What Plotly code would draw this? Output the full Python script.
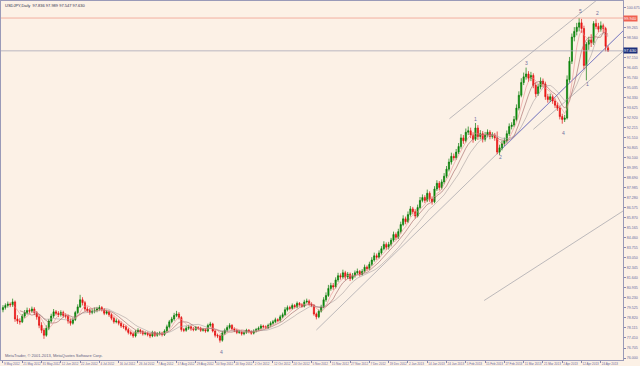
import plotly.graph_objects as go
import pandas as pd

open_ = [79.40,79.55,79.70,79.80,79.75,79.95,78.75,78.60,78.55,78.95,79.20,79.35,79.30,79.45,79.20,78.90,78.30,77.95,77.60,78.10,
78.60,78.95,79.25,79.15,79.05,79.20,79.00,78.95,78.60,78.45,78.70,79.20,79.60,80.10,79.90,79.45,79.35,79.20,79.30,79.35,
79.45,79.55,79.40,79.15,79.25,79.05,78.80,78.55,78.60,78.45,78.25,78.20,78.00,77.80,77.70,77.55,77.85,77.95,77.85,77.70,
77.75,77.65,77.55,77.80,77.60,77.70,77.75,77.65,77.90,78.20,78.55,78.75,79.00,79.10,78.85,78.00,77.95,78.10,78.20,78.05,
78.00,78.15,78.10,77.95,78.00,77.90,78.30,78.40,77.90,77.60,77.55,77.25,77.75,77.95,78.15,78.30,78.05,77.95,77.80,77.85,
77.70,77.80,77.95,77.85,77.75,77.90,78.00,78.10,78.25,78.20,78.15,78.30,78.45,78.55,78.70,78.65,78.90,79.05,79.40,79.55,
79.50,79.70,79.60,79.85,79.75,79.65,79.95,80.00,79.80,79.70,79.10,78.90,79.30,79.60,80.10,80.40,80.90,81.10,81.00,81.50,
81.80,81.70,82.00,81.70,81.90,81.60,81.80,82.00,82.10,81.90,82.10,82.40,82.30,82.60,82.90,83.20,83.10,83.40,83.70,84.00,
83.80,84.00,84.30,84.70,84.50,84.90,85.40,85.80,85.60,86.10,86.50,86.30,86.00,86.60,87.10,87.30,87.10,87.60,87.20,87.00,
87.90,88.30,88.00,88.40,88.80,89.30,89.80,90.20,90.10,90.50,90.90,91.50,91.30,91.90,92.00,91.70,91.40,92.20,91.60,91.80,
91.40,91.70,91.90,91.60,91.70,91.50,90.50,90.80,91.10,91.30,91.80,92.30,92.40,92.80,93.60,94.50,95.40,95.80,96.00,95.70,
95.90,95.20,94.60,95.10,95.50,95.30,94.40,94.20,94.40,94.10,93.80,93.60,93.00,92.80,92.90,95.60,96.90,98.60,99.00,99.30,
99.60,99.20,96.60,98.10,98.40,98.20,99.55,99.35,99.15,99.40,99.20,97.84]

high = [79.72,79.85,79.98,79.92,80.18,80.05,79.02,78.80,79.10,79.38,79.55,79.50,79.62,79.58,79.31,79.05,78.52,78.10,78.30,78.74,
79.12,79.45,79.38,79.30,79.36,79.33,79.15,79.06,78.78,78.85,79.32,79.78,80.45,80.28,80.02,79.62,79.50,79.46,79.55,79.60,
79.72,79.66,79.52,79.40,79.36,79.18,78.92,78.78,78.71,78.58,78.40,78.31,78.12,77.94,77.82,77.98,78.10,78.05,77.96,77.88,
77.86,77.78,77.92,77.90,77.83,77.88,77.85,78.02,78.35,78.68,78.90,79.18,79.32,79.24,78.95,78.12,78.25,78.33,78.30,78.18,
78.26,78.24,78.20,78.12,78.08,78.42,78.55,78.48,78.00,77.72,77.66,77.90,78.08,78.30,78.45,78.38,78.16,78.05,77.98,77.94,
77.91,78.06,78.04,77.95,78.02,78.12,78.22,78.38,78.34,78.30,78.42,78.58,78.68,78.84,78.80,79.04,79.20,79.58,79.70,79.68,
79.84,79.80,79.98,79.94,79.86,80.10,80.18,80.12,79.92,79.80,79.20,79.42,79.75,80.28,80.62,81.15,81.30,81.28,81.68,82.00,
81.96,82.22,82.14,82.06,82.02,81.98,82.16,82.30,82.20,82.26,82.58,82.52,82.78,83.10,83.42,83.36,83.58,83.88,84.22,84.14,
84.18,84.46,84.90,84.84,85.10,85.60,86.05,85.96,86.32,86.70,86.64,86.48,86.80,87.34,87.52,87.46,87.86,87.74,87.38,88.10,
88.52,88.46,88.58,89.02,89.52,90.04,90.46,90.40,90.72,91.14,91.76,91.70,92.16,92.30,92.22,91.90,92.55,92.40,92.05,91.98,
91.92,92.10,92.04,91.90,91.85,91.95,91.02,91.30,91.52,92.02,92.52,92.60,93.04,93.86,94.78,95.70,96.10,96.45,96.20,96.15,
96.05,95.40,95.30,95.76,95.68,95.46,94.60,94.62,94.55,94.28,94.00,93.72,93.20,93.12,95.90,97.20,98.85,99.30,99.60,99.95,
99.88,99.40,98.25,98.62,98.80,99.72,99.85,99.60,99.70,99.55,99.32,97.99]

low = [79.22,79.41,79.55,79.58,79.60,78.55,78.40,78.35,78.46,78.80,79.05,79.12,79.18,79.02,78.70,78.10,77.75,77.35,77.50,77.96,
78.48,78.82,79.00,78.88,78.92,78.85,78.78,78.42,78.28,78.35,78.60,79.08,79.52,79.70,79.30,79.20,79.04,79.08,79.15,79.22,
79.30,79.28,79.02,79.05,78.90,78.66,78.42,78.44,78.30,78.12,78.06,77.88,77.66,77.58,77.42,77.45,77.72,77.70,77.58,77.60,
77.52,77.40,77.46,77.48,77.50,77.58,77.52,77.55,77.80,78.08,78.44,78.62,78.88,78.72,77.86,77.82,77.85,77.98,77.92,77.88,
77.90,77.98,77.84,77.86,77.78,77.82,78.18,77.80,77.45,77.40,77.08,77.15,77.62,77.84,78.02,77.92,77.82,77.68,77.70,77.58,
77.60,77.70,77.74,77.64,77.66,77.80,77.90,78.00,78.08,78.04,78.06,78.20,78.34,78.46,78.52,78.56,78.80,78.96,79.28,79.36,
79.40,79.48,79.50,79.62,79.54,79.56,79.84,79.68,79.58,78.98,78.72,78.80,79.20,79.50,79.96,80.30,80.74,80.80,80.90,81.36,
81.52,81.58,81.50,81.56,81.42,81.48,81.66,81.86,81.74,81.80,82.00,82.14,82.20,82.48,82.78,82.92,83.00,83.28,83.58,83.62,
83.64,83.86,84.18,84.32,84.38,84.76,85.28,85.42,85.50,85.96,86.12,85.82,85.90,86.48,86.96,86.92,86.98,87.00,86.80,86.90,
87.76,87.80,87.86,88.24,88.66,89.14,89.62,89.90,89.96,90.36,90.74,91.08,91.18,91.70,91.48,91.16,91.28,91.36,91.40,91.18,
91.24,91.54,91.40,91.44,91.30,90.35,90.30,90.62,90.94,91.16,91.64,92.10,92.26,92.66,93.44,94.36,95.22,95.60,95.44,95.50,
95.00,94.36,94.46,94.92,95.06,94.18,93.98,94.04,93.90,93.60,93.40,92.80,92.50,92.62,92.80,95.40,96.70,98.30,98.72,99.00,
98.90,96.35,95.55,97.70,97.90,98.05,99.15,98.95,98.98,98.90,97.60,97.55]

close = [79.55,79.70,79.80,79.75,79.95,78.75,78.60,78.55,78.95,79.20,79.35,79.30,79.45,79.20,78.90,78.30,77.95,77.60,78.10,78.60,
78.95,79.25,79.15,79.05,79.20,79.00,78.95,78.60,78.45,78.70,79.20,79.60,80.10,79.90,79.45,79.35,79.20,79.30,79.35,79.45,
79.55,79.40,79.15,79.25,79.05,78.80,78.55,78.60,78.45,78.25,78.20,78.00,77.80,77.70,77.55,77.85,77.95,77.85,77.70,77.75,
77.65,77.55,77.80,77.60,77.70,77.75,77.65,77.90,78.20,78.55,78.75,79.00,79.10,78.85,78.00,77.95,78.10,78.20,78.05,78.00,
78.15,78.10,77.95,78.00,77.90,78.30,78.40,77.90,77.60,77.55,77.25,77.75,77.95,78.15,78.30,78.05,77.95,77.80,77.85,77.70,
77.80,77.95,77.85,77.75,77.90,78.00,78.10,78.25,78.20,78.15,78.30,78.45,78.55,78.70,78.65,78.90,79.05,79.40,79.55,79.50,
79.70,79.60,79.85,79.75,79.65,79.95,80.00,79.80,79.70,79.10,78.90,79.30,79.60,80.10,80.40,80.90,81.10,81.00,81.50,81.80,
81.70,82.00,81.70,81.90,81.60,81.80,82.00,82.10,81.90,82.10,82.40,82.30,82.60,82.90,83.20,83.10,83.40,83.70,84.00,83.80,
84.00,84.30,84.70,84.50,84.90,85.40,85.80,85.60,86.10,86.50,86.30,86.00,86.60,87.10,87.30,87.10,87.60,87.20,87.00,87.90,
88.30,88.00,88.40,88.80,89.30,89.80,90.20,90.10,90.50,90.90,91.50,91.30,91.90,92.00,91.70,91.40,92.20,91.60,91.80,91.40,
91.70,91.90,91.60,91.70,91.50,90.50,90.80,91.10,91.30,91.80,92.30,92.40,92.80,93.60,94.50,95.40,95.80,96.00,95.70,95.90,
95.20,94.60,95.10,95.50,95.30,94.40,94.20,94.40,94.10,93.80,93.60,93.00,92.80,92.90,95.60,96.90,98.60,99.00,99.30,99.60,
99.20,96.60,98.10,98.40,98.20,99.55,99.35,99.15,99.40,99.20,97.95,97.63]

tick_labels = ["9 May 2012","21 May 2012","31 May 2012","12 Jun 2012","22 Jun 2012","4 Jul 2012","16 Jul 2012",
"26 Jul 2012","7 Aug 2012","17 Aug 2012","29 Aug 2012","10 Sep 2012","20 Sep 2012","2 Oct 2012","12 Oct 2012",
"24 Oct 2012","5 Nov 2012","15 Nov 2012","27 Nov 2012","7 Dec 2012","19 Dec 2012","2 Jan 2013","14 Jan 2013",
"24 Jan 2013","5 Feb 2013","15 Feb 2013","27 Feb 2013","11 Mar 2013","21 Mar 2013","2 Apr 2013","12 Apr 2013","24 Apr 2013"]

price_ticks = [76.000,76.705,77.410,78.115,78.820,79.525,80.230,80.935,81.640,82.345,83.050,83.755,84.460,85.165,
85.870,86.575,87.280,87.985,88.690,89.395,90.100,90.805,91.510,92.215,92.920,93.625,94.330,95.035,95.740,96.445,
97.150,98.560,99.265,100.675]

wave_text = ["4", "1", "2", "3", "4", "5", "1", "2"]
wave_x = [90.5, 195.9, 206.2, 217.3, 232.5, 239.5, 242.4, 246.5]
wave_y = [76.42, 92.85, 90.12, 96.79, 91.87, 100.44, 95.31, 100.30]

# trend lines: (x0, y0, x1, y1, colour)
trend_lines = [
    (185.2, 92.85, 257.2, 102.69, "#a0a0a8"),
    (130.0, 77.97, 257.2, 99.03, "#a0a0a8"),
    (207.0, 90.75, 257.2, 99.03, "#6a6ad0"),
    (220.0, 92.10, 257.2, 97.60, "#a0a0a8"),
    (199.6, 80.05, 257.2, 86.35, "#a0a0a8"),
]

ask_line = 99.94
bid_line = 97.63
title_text = "USDJPY,Daily  97.836 97.989 97.547 97.630"
copyright_text = "MetaTrader, \u00a9 2001-2013, MetaQuotes Software Corp."

n = len(close)
s = pd.Series(close)
x = list(range(n))

BG = "#FCF1E6"
AX = "#6a6aa0"
FONT = "Liberation Sans"
fig = go.Figure()
for w, col in [(13, "#a8a0a0"), (8, "#a06060"), (5, "#e89090")]:
    fig.add_trace(go.Scatter(x=x, y=s.rolling(w).mean(), mode="lines",
        line=dict(color=col, width=0.6), showlegend=False, hoverinfo="skip"))
fig.add_trace(go.Candlestick(x=x, open=open_, high=high, low=low, close=close,
    increasing=dict(line=dict(color="#0a7a0a", width=0.7), fillcolor="#0a9a0a"),
    decreasing=dict(line=dict(color="#e01010", width=0.7), fillcolor="#ff1a1a"),
    whiskerwidth=0, showlegend=False, hoverinfo="skip"))

shapes = []
for x0, y0, x1, y1, col in trend_lines:
    shapes.append(dict(type="line", xref="x", yref="y", x0=x0, y0=y0, x1=x1, y1=y1,
                       line=dict(color=col, width=0.7), layer="below"))
shapes.append(dict(type="line", xref="paper", yref="y", x0=0, x1=1, y0=ask_line, y1=ask_line,
                   line=dict(color="#f0a090", width=0.8)))
shapes.append(dict(type="line", xref="paper", yref="y", x0=0, x1=1, y0=bid_line, y1=bid_line,
                   line=dict(color="#a8a8b8", width=0.8)))

annotations = []
for t, xx, yy in zip(wave_text, wave_x, wave_y):
    annotations.append(dict(x=xx, y=yy, xref="x", yref="y", text=t, showarrow=False,
                            font=dict(size=5, color="#7070a0", family=FONT)))
annotations.append(dict(x=0.004, y=1.0, xref="paper", yref="paper", xanchor="left", yanchor="top",
                        text=title_text, showarrow=False, font=dict(size=4, color="#303050", family=FONT)))
annotations.append(dict(x=0.003, y=0.0, xref="paper", yref="paper", xanchor="left", yanchor="bottom",
                        text=copyright_text, showarrow=False, font=dict(size=4, color="#606080", family=FONT)))
annotations.append(dict(x=1.0, y=ask_line, xref="paper", yref="y", xanchor="left", yanchor="middle",
                        text="%.3f" % ask_line, showarrow=False, bgcolor="#f06050", borderpad=0,
                        font=dict(size=4, color="#ffffff", family=FONT)))
annotations.append(dict(x=1.0, y=bid_line, xref="paper", yref="y", xanchor="left", yanchor="middle",
                        text="%.3f" % bid_line, showarrow=False, bgcolor="#1c2f7a", borderpad=0,
                        font=dict(size=4, color="#ffffff", family=FONT)))

fig.update_layout(width=640, height=366, margin=dict(l=0, r=13, t=0, b=6),
    paper_bgcolor=BG, plot_bgcolor=BG, shapes=shapes, annotations=annotations,
    xaxis=dict(range=[-0.82, 257.2], rangeslider=dict(visible=False), showgrid=False, zeroline=False,
        tickvals=list(range(0, 8 * len(tick_labels), 8)), ticktext=tick_labels, tickangle=0,
        ticklabelposition="outside right", tickfont=dict(size=3, color=AX, family=FONT),
        ticks="outside", ticklen=2, tickcolor="#8888aa", showline=True, linecolor="#9a9ab8", mirror=True),
    yaxis=dict(range=[75.86, 101.14], side="right", showgrid=False, zeroline=False,
        tickvals=price_ticks, tickformat=".3f",
        tickfont=dict(size=3.6, color=AX, family=FONT),
        ticks="outside", ticklen=2, tickcolor="#8888aa", showline=True, linecolor="#9a9ab8", mirror=True))

fig.write_html("out.html")
